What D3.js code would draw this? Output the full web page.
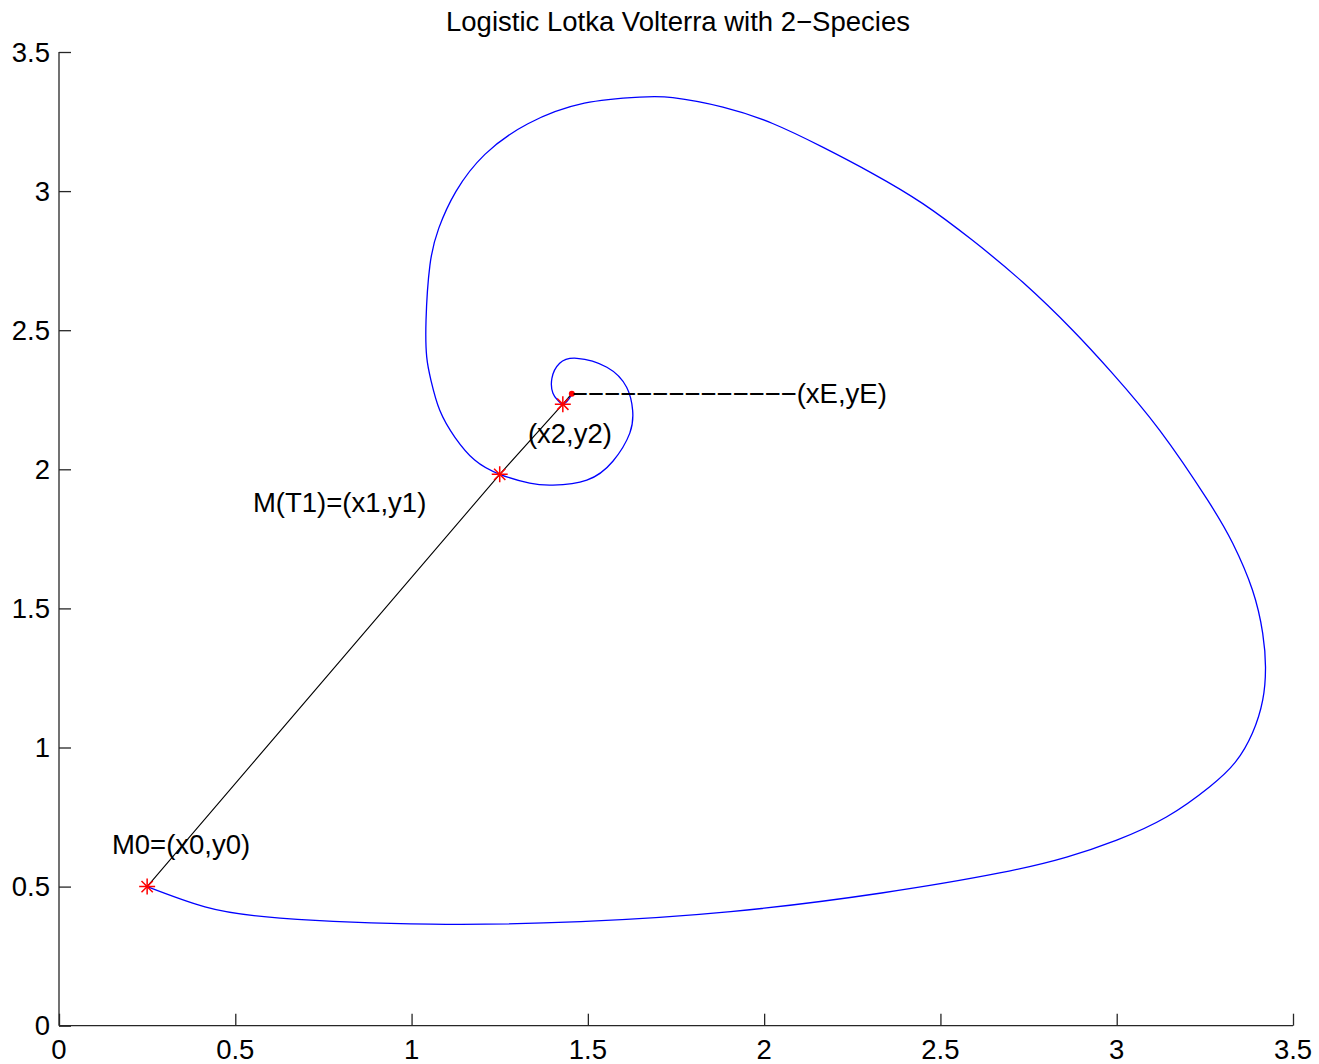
<!DOCTYPE html>
<html>
<head>
<meta charset="utf-8">
<script src="https://cdn.jsdelivr.net/npm/d3@7"></script>
<style>
  body { margin: 0; background: #fff; }
  text { font-family: "Liberation Sans", Arial, sans-serif; }
</style>
</head>
<body>
<svg width="1319" height="1064"></svg>
<script>
// trajectory (x = species 1, y = species 2)
var trajX = [0.25, 0.414, 0.627, 1.055, 1.480, 1.905, 2.333, 2.668, 2.858, 3.000,
             3.141, 3.263, 3.337, 3.385, 3.414, 3.422, 3.414, 3.385, 3.329, 3.258,
             3.122, 2.988, 2.875, 2.733, 2.591, 2.450, 2.308, 2.166, 2.024, 1.883,
             1.741, 1.647, 1.490, 1.330, 1.208, 1.126, 1.077, 1.052, 1.041, 1.043,
             1.055, 1.080, 1.123, 1.179, 1.250, 1.335, 1.401, 1.497, 1.571, 1.619,
             1.627, 1.610, 1.554, 1.469, 1.420, 1.398, 1.401, 1.415, 1.429, 1.446, 1.4545];
var trajY = [0.50, 0.427, 0.387, 0.365, 0.374, 0.410, 0.477, 0.549, 0.606, 0.667,
             0.750, 0.858, 0.948, 1.052, 1.170, 1.289, 1.411, 1.566, 1.734, 1.889,
             2.140, 2.345, 2.500, 2.673, 2.823, 2.955, 3.063, 3.158, 3.243, 3.302,
             3.336, 3.338, 3.316, 3.242, 3.132, 2.999, 2.866, 2.733, 2.536, 2.403,
             2.320, 2.212, 2.115, 2.033, 1.982, 1.950, 1.943, 1.961, 2.029, 2.130,
             2.212, 2.295, 2.367, 2.399, 2.381, 2.327, 2.273, 2.248, 2.234, 2.252, 2.272];

// marked points M0, M(T1), (x2,y2) and the equilibrium E
var markX = [0.25, 1.25, 1.429];
var markY = [0.50, 1.982, 2.234];
var eqX = 1.4545, eqY = 2.272;

// annotations: text and anchor (left, middle)
var labelText = ["M0=(x0,y0)", "M(T1)=(x1,y1)", "(x2,y2)",
                 "\u2212".repeat(14) + "(xE,yE)"];
var labelX = [0.15, 0.55, 1.33, 1.4545];
var labelY = [0.65, 1.88, 2.13, 2.272];

var tickVals = [0, 0.5, 1, 1.5, 2, 2.5, 3, 3.5];
var title = "Logistic Lotka Volterra with 2\u2212Species";

var svg = d3.select("svg"),
    fontSize = 27.5,
    axL = 59, axR = 1293, axT = 52, axB = 1025.7;

var x = d3.scaleLinear().domain([0, 3.5]).range([axL, axR]);
var y = d3.scaleLinear().domain([0, 3.5]).range([axB, axT]);

svg.append("rect").attr("width", 1319).attr("height", 1064).attr("fill", "#fff");

// axes, ticks pointing inward like matlab
svg.append("g")
    .attr("transform", "translate(0," + axB + ")")
    .call(d3.axisTop(x).tickValues(tickVals).tickSize(12).tickFormat(""));
svg.append("g")
    .attr("transform", "translate(" + axL + ",0)")
    .call(d3.axisRight(y).tickValues(tickVals).tickSize(12).tickFormat(""));
svg.selectAll(".tick line").attr("stroke", "#262626").attr("stroke-width", 1.3);
// the domain path of d3 draws outer ticks; replace with a plain line
svg.selectAll(".domain").remove();
svg.append("line").attr("x1", axL).attr("x2", axR).attr("y1", axB).attr("y2", axB)
    .attr("stroke", "#262626").attr("stroke-width", 1.3);
svg.append("line").attr("x1", axL).attr("x2", axL).attr("y1", axT).attr("y2", axB)
    .attr("stroke", "#262626").attr("stroke-width", 1.3);

var fmt = function(d) { return d3.format("")(d); };

svg.append("g").selectAll("text")
    .data(tickVals)
  .enter().append("text")
    .attr("x", function(d) { return x(d); })
    .attr("y", axB + 33)
    .attr("text-anchor", "middle")
    .attr("font-size", fontSize)
    .text(fmt);

svg.append("g").selectAll("text")
    .data(tickVals)
  .enter().append("text")
    .attr("x", axL - 9)
    .attr("y", function(d) { return y(d); })
    .attr("dy", "0.35em")
    .attr("text-anchor", "end")
    .attr("font-size", fontSize)
    .text(fmt);

svg.append("text")
    .attr("x", (axL + axR) / 2 + 2)
    .attr("y", 31)
    .attr("text-anchor", "middle")
    .attr("font-size", fontSize)
    .text(title);

// trajectory
var traj = trajX.map(function(d, i) { return [d, trajY[i]]; });
var line = d3.line()
    .x(function(d) { return x(d[0]); })
    .y(function(d) { return y(d[1]); })
    .curve(d3.curveNatural);

svg.append("path")
    .datum(traj)
    .attr("fill", "none")
    .attr("stroke", "#0000ff")
    .attr("stroke-width", 1.3)
    .attr("d", line);

// black segments joining the marked points to the equilibrium
var chord = markX.map(function(d, i) { return [d, markY[i]]; }).concat([[eqX, eqY]]);
svg.append("path")
    .datum(chord)
    .attr("fill", "none")
    .attr("stroke", "#000")
    .attr("stroke-width", 1.1)
    .attr("d", d3.line().x(function(d) { return x(d[0]); }).y(function(d) { return y(d[1]); }));

// red asterisks = plus + times
var marks = svg.append("g").selectAll("g")
    .data(chord.slice(0, 3))
  .enter().append("g")
    .attr("transform", function(d) { return "translate(" + x(d[0]) + "," + y(d[1]) + ")"; });
marks.append("path").attr("d", d3.symbol(d3.symbolPlus, 85)).attr("fill", "none")
    .attr("stroke", "#ff0000").attr("stroke-width", 1.5);
marks.append("path").attr("d", d3.symbol(d3.symbolTimes, 85)).attr("fill", "none")
    .attr("stroke", "#ff0000").attr("stroke-width", 1.5);

svg.append("circle")
    .attr("cx", x(eqX)).attr("cy", y(eqY))
    .attr("r", 3)
    .attr("fill", "#ff0000");

svg.append("g").selectAll("text")
    .data(labelText)
  .enter().append("text")
    .attr("x", function(d, i) { return x(labelX[i]); })
    .attr("y", function(d, i) { return y(labelY[i]); })
    .attr("dy", "0.35em")
    .attr("font-size", fontSize)
    .text(function(d) { return d; });
</script>
</body>
</html>
